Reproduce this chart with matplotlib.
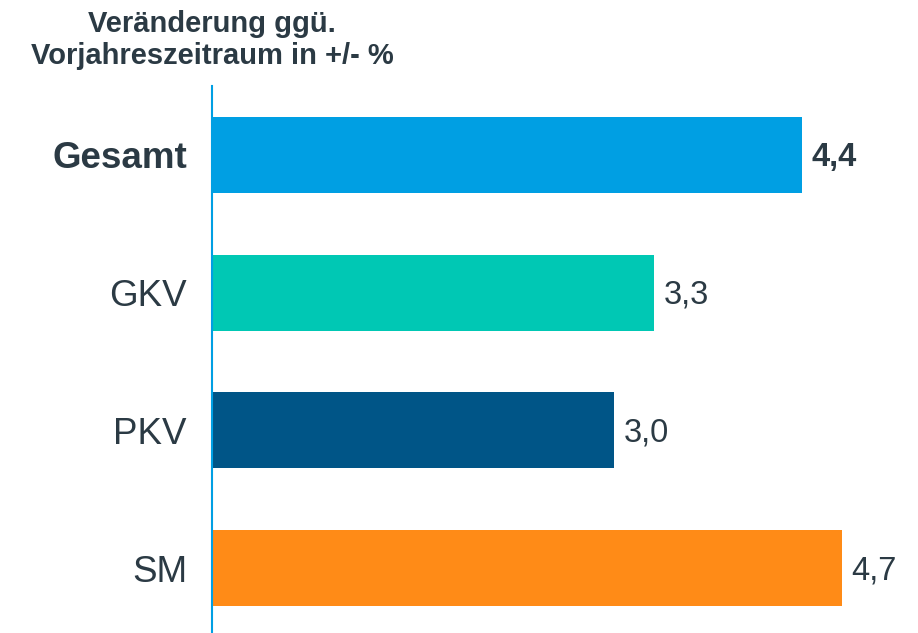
import matplotlib.pyplot as plt

categories = ['Gesamt', 'GKV', 'PKV', 'SM']
values = [4.4, 3.3, 3.0, 4.7]
value_labels = ['4,4', '3,3', '3,0', '4,7']
colors = ['#009FE3', '#00C8B4', '#005587', '#FF8B17']
title = 'Veränderung ggü.\nVorjahreszeitraum in +/- %'

text_color = '#2B3A44'
plt.rcParams['font.family'] = ['Liberation Sans', 'DejaVu Sans']

W, H = 918, 633
fig = plt.figure(figsize=(W / 100, H / 100), dpi=100)
ax = fig.add_axes([212 / W, 0, 1 - 212 / W, 1 - 86 / H])

pos = list(range(len(categories)))
ax.barh(pos, values, height=0.552, color=colors)
ax.set_xlim(0, (W - 212) / 134)
ax.set_ylim(3.47, -0.5)

for i, (v, lab) in enumerate(zip(values, value_labels)):
    ax.annotate(lab, (v, i), xytext=(7, -2), textcoords='offset points',
                ha='left', va='center', fontsize=23.5, color=text_color,
                fontweight='bold' if i == 0 else 'normal')

ax.set_yticks(pos)
ax.set_yticklabels(categories, fontsize=26.5, color=text_color)
ax.get_yticklabels()[0].set_fontweight('bold')
ax.tick_params(axis='y', length=0, pad=18)
ax.set_xticks([])

for s in ['top', 'right', 'bottom']:
    ax.spines[s].set_visible(False)
ax.spines['left'].set_color('#009FE3')
ax.spines['left'].set_linewidth(1.5)

fig.text(212 / W, 1 - 40 / H, title, ha='center', va='center',
         fontsize=21, fontweight='bold', color=text_color, linespacing=1.2)

fig.savefig('out.png', dpi=100)
